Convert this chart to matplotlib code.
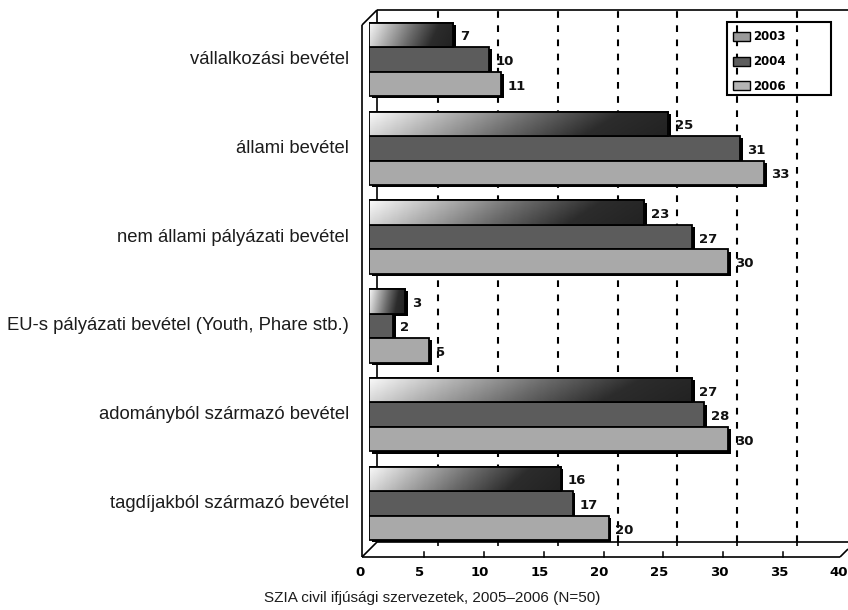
import numpy as np
import matplotlib
matplotlib.use("Agg")
import matplotlib.pyplot as plt
from matplotlib.transforms import ScaledTranslation, IdentityTransform
from matplotlib.patches import Rectangle, Patch
from matplotlib.lines import Line2D
from matplotlib.colors import LinearSegmentedColormap
import matplotlib.patheffects as pe

# ---- data -------------------------------------------------------------
categories = [
    "vállalkozási bevétel",
    "állami bevétel",
    "nem állami pályázati bevétel",
    "EU-s pályázati bevétel (Youth, Phare stb.)",
    "adományból származó bevétel",
    "tagdíjakból származó bevétel",
]
years = ["2003", "2004", "2006"]
values_2003 = [7, 25, 23, 3, 27, 16]
values_2004 = [10, 31, 27, 2, 28, 17]
values_2006 = [11, 33, 30, 5, 30, 20]
x_ticks = [0, 5, 10, 15, 20, 25, 30, 35, 40]
caption = "SZIA civil ifjúsági szervezetek, 2005–2006 (N=50)"

# ---- layout (pixels) --------------------------------------------------
W, H = 848, 610
X0, X40 = 369, 848          # value 0 and 40 in the bar plane
TOP, BOT = 10, 557          # back-wall top, front floor line
Y0, PITCH = 59.5, 88.8      # first group centre, distance between groups
BAR_H = 0.276               # bar thickness in category units
BACK_DX = 9                 # back wall shifted right of bar plane
FRONT_DX = -5               # front floor edge shifted left
BACK_FLOOR = 542


def ydata(p):
    return (p - Y0) / PITCH


fig = plt.figure(figsize=(W / 100, H / 100), dpi=100)
ax = fig.add_axes([X0 / W, (H - BOT) / H, (X40 - X0) / W, (BOT - TOP) / H])
ax.set_xlim(0, 40)
ax.set_ylim(ydata(BOT), ydata(TOP))
ax.axis("off")


def shift(dx, dy=0):
    # offset in pixels (dy positive = downwards on the image)
    return ScaledTranslation(dx / 100, -dy / 100, fig.dpi_scale_trans)


ident = IdentityTransform()


def frame_line(xs, ys, lw=1.2, z=1, **kw):
    ax.add_line(Line2D(xs, [H - y for y in ys], transform=ident,
                       color="black", lw=lw, solid_capstyle="butt",
                       zorder=z, clip_on=False, **kw))


# ---- pseudo-3D frame --------------------------------------------------
frame_line([377, 377], [TOP, BACK_FLOOR])                 # back wall left edge
frame_line([377, W], [TOP, TOP])                          # back wall top
frame_line([362, 362], [25, BOT], z=2)                    # side wall front edge
frame_line([362, 377], [25, TOP])                         # top-left corner
frame_line([362, 377], [BOT, BACK_FLOOR], z=2)            # bottom-left corner
frame_line([377, W], [BACK_FLOOR, BACK_FLOOR])            # back floor edge
frame_line([362, 840], [BOT, BOT], z=2)                   # front floor edge
frame_line([840, 848], [BOT, BOT - 8], z=2)               # floor right corner

# dashed gridlines on the back wall
inner = x_ticks[1:-1]
ax.vlines(inner, ydata(BACK_FLOOR), ydata(TOP), colors="black", lw=1.5,
          linestyles=(0, (3.2, 3.6)), transform=ax.transData + shift(BACK_DX),
          zorder=1, clip_on=False)

# floor ticks (back edge and front edge)
ax.vlines(inner, ydata(BACK_FLOOR), ydata(BACK_FLOOR + 4), colors="black",
          lw=1.2, transform=ax.transData + shift(BACK_DX), zorder=1,
          clip_on=False)
for t in inner:
    ax.plot([t, t], [ydata(BOT), ydata(BOT - 5)], color="black", lw=1.1,
            transform=ax.transData + shift(FRONT_DX), clip_on=False)

# x tick labels
for t in x_ticks:
    ax.text(t, ydata(573), str(t), ha="center", va="center",
            fontsize=9.5, fontweight="bold", family="DejaVu Sans",
            transform=ax.transData + shift(-9), clip_on=False)

# ---- bars -------------------------------------------------------------
pos = np.arange(len(categories))
shadow = [pe.SimplePatchShadow(offset=(2, -1.6), shadow_rgbFace="black",
                               alpha=1.0), pe.Normal()]

series = [
    (values_2003, pos - BAR_H, "white"),
    (values_2004, pos, "#5c5c5c"),
    (values_2006, pos + BAR_H, "#a9a9a9"),
]

bar_sets = []
for vals, ypos, col in series:
    bars = ax.barh(ypos, vals, height=BAR_H, color=col, edgecolor="black",
                   linewidth=1.3, zorder=3)
    for b in bars:
        b.set_path_effects(shadow)
    bar_sets.append(bars)

# gradient fill of the first series
gx = np.linspace(0, 1, 256)
gy = np.linspace(0, 1, 32)
GX, GY = np.meshgrid(gx, gy)
tone = np.clip(0.88 * GX + 0.12 * GY, 0, 1)
grad_cmap = LinearSegmentedColormap.from_list(
    "grad", ["#fafafa", "#b0b0b0", "#6a6a6a", "#2c2c2c", "#222222"])
for b in bar_sets[0]:
    x, y = b.get_xy()
    w, h = b.get_width(), b.get_height()
    im = ax.imshow(tone, cmap=grad_cmap, extent=(x, x + w, y + h, y),
                   aspect="auto", zorder=3.5, interpolation="bilinear",
                   vmin=0, vmax=1)
    im.set_clip_path(b)
    ax.add_patch(Rectangle((x, y), w, h, fill=False, edgecolor="black",
                           linewidth=1.3, zorder=4))
ax.set_xlim(0, 40)
ax.set_ylim(ydata(BOT), ydata(TOP))

# value labels
for vals, ypos, _ in series:
    for v, yy in zip(vals, ypos):
        ax.text(v, yy, str(v), ha="left", va="center", fontsize=9.5,
                fontweight="bold", family="DejaVu Sans", color="#111111",
                transform=ax.transData + shift(7, 2), zorder=5)

# category labels
for c, yy in zip(categories, pos):
    ax.text(0, yy, c, ha="right", va="center", fontsize=13.3,
            family="Liberation Sans", color="#1c1c1c",
            transform=ax.transData + shift(-20, 0), clip_on=False)

# ---- legend -----------------------------------------------------------
fig.add_artist(Rectangle((727, H - 95), 104, 73, transform=ident, fill=False,
                         edgecolor="black", lw=1.5))
handles = [Patch(facecolor=c, edgecolor="black", lw=1.0)
           for c in ["#9a9a9a", "#5c5c5c", "#b4b4b4"]]
fig.legend(handles, years, loc="upper left",
           bbox_to_anchor=(731 / W, 1 - 28 / H), frameon=False,
           prop={"family": "DejaVu Sans", "weight": "bold", "size": 8.5},
           handlelength=1.4, handleheight=0.8, handletextpad=0.25,
           labelspacing=1.0, borderpad=0.2, borderaxespad=0)

# caption
fig.text(600 / W, 1 - 598 / H, caption, ha="right", va="center", fontsize=11,
         family="Liberation Sans", color="#1c1c1c")

fig.savefig("out.png", dpi=100)
